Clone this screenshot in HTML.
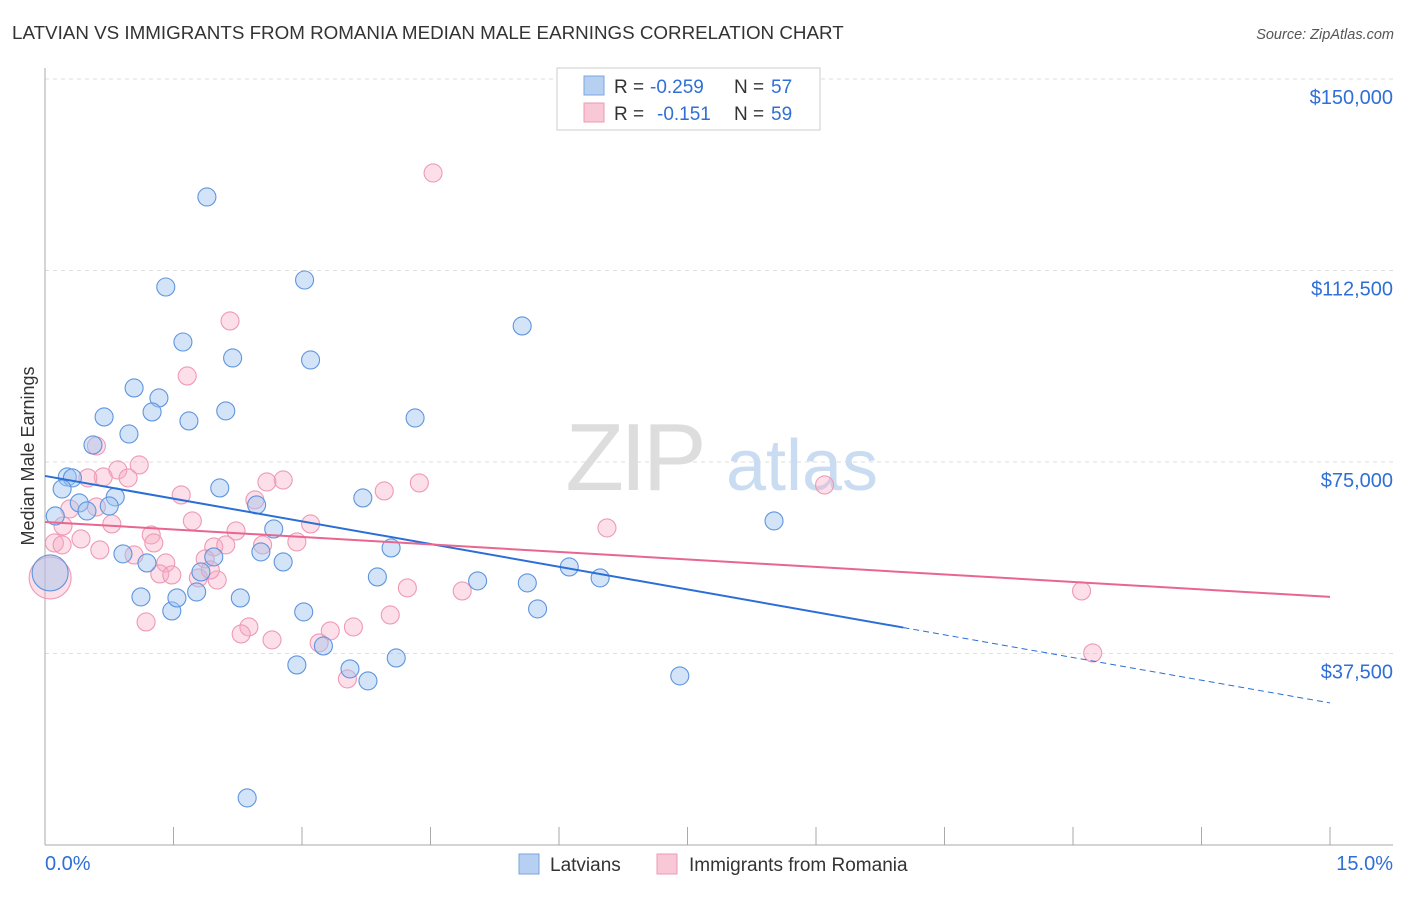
<!DOCTYPE html>
<html><head><meta charset="utf-8"><style>
body{margin:0;background:#fff;font-family:"Liberation Sans",sans-serif}
svg text{font-family:"Liberation Sans",sans-serif}
</style></head><body>
<svg id="chart" width="1406" height="892">
<text x="12" y="39" font-size="18.8" fill="#333">LATVIAN VS IMMIGRANTS FROM ROMANIA MEDIAN MALE EARNINGS CORRELATION CHART</text>
<text x="1394" y="39" font-size="14.5" fill="#555" font-style="italic" text-anchor="end">Source: ZipAtlas.com</text>
<text x="0" y="0" font-size="18" fill="#333" transform="translate(34,456) rotate(-90)" text-anchor="middle">Median Male Earnings</text>
<g id="grid"></g>
<g id="wm">
<text x="634" y="490" font-size="96" fill="#ddd" font-family="Liberation Serif" text-anchor="middle" letter-spacing="-4">ZIP</text>
<text x="802" y="490" font-size="72" fill="#c9dcf2" text-anchor="middle">atlas</text></g>
<g id="axes"></g>
<g id="pts"></g>
<g id="lines"></g>
<g>
<rect x="557" y="68" width="263" height="62" fill="#fff" stroke="#ccc"/>
<rect x="584" y="76" width="20" height="19" fill="#b7d0f2" stroke="#7aa6e0"/>
<text x="614" y="93" font-size="19" fill="#333">R =</text>
<text x="650" y="93" font-size="19" fill="#2f6fd6">-0.259</text>
<text x="734" y="93" font-size="19" fill="#333">N =</text>
<text x="771" y="93" font-size="19" fill="#2f6fd6">57</text>
<rect x="584" y="103" width="20" height="19" fill="#f9c8d6" stroke="#ec99b2"/>
<text x="614" y="120" font-size="19" fill="#333">R =</text>
<text x="657" y="120" font-size="19" fill="#2f6fd6">-0.151</text>
<text x="734" y="120" font-size="19" fill="#333">N =</text>
<text x="771" y="120" font-size="19" fill="#2f6fd6">59</text>
</g>
<g>
<rect x="519" y="854" width="20" height="20" fill="#b7d0f2" stroke="#7aa6e0"/>
<text x="550" y="871" font-size="19" fill="#333">Latvians</text>
<rect x="657" y="854" width="20" height="20" fill="#f9c8d6" stroke="#ec99b2"/>
<text x="689" y="871" font-size="19" fill="#333">Immigrants from Romania</text>
</g>
</svg>
<script>
const yTicks=[150000,112500,75000,37500];
const yTickLabels=["$150,000","$112,500","$75,000","$37,500"];
const xTickCount=[0,1.5,3,4.5,6,7.5,9,10.5,12,13.5,15];
const blueX=[1.89,1.41,3.03,1.61,2.19,3.10,5.57,1.04,1.33,1.25,0.69,2.11,1.68,4.32,0.98,0.56,0.26,0.32,0.20,0.82,2.04,3.71,0.40,0.49,0.75,0.12,2.47,2.67,8.51,0.91,1.19,2.52,2.78,1.97,4.04,1.82,3.88,5.05,5.63,6.12,6.48,1.12,1.48,1.77,2.28,1.54,3.02,5.75,3.25,2.94,3.56,4.10,3.77,7.41,2.36,0.06];
const blueY=[126900,109270,110640,98500,95370,94980,101640,89500,87540,84800,83820,85000,83040,83620,80490,78340,72070,71880,69720,68160,69920,67960,66980,65410,66390,64430,66590,61890,63460,57000,55230,57390,55430,56410,58170,53470,52490,51710,51320,54450,52300,48580,45830,49550,48380,48380,45640,46230,38980,35260,34480,36630,32130,33110,9220,53270];
const pinkX=[4.53,2.16,1.66,0.60,1.10,0.85,0.68,0.50,2.78,2.59,4.37,3.96,1.59,9.10,0.97,2.45,0.29,0.60,0.21,0.78,1.72,3.10,2.23,1.24,6.56,0.11,0.20,0.42,1.27,2.94,2.54,1.97,2.11,1.04,1.41,1.87,1.34,1.48,1.79,2.01,4.23,4.87,12.10,1.18,2.38,2.29,3.60,3.33,2.65,3.20,4.03,12.23,3.53,0.06,1.93,0.64];
const pinkY=[131600,102620,91850,78140,74420,73440,72070,71880,71480,71090,70900,69330,68550,70500,71880,67570,65810,66200,62480,62870,63460,62870,61500,60720,62090,59150,58760,59930,59150,59350,58760,58370,58760,56800,55230,56020,53080,52880,52300,51900,50340,49750,49750,43680,42700,41330,42700,41920,40160,39570,45050,37610,32520,52300,53860,57780];
const blueTrend=[72270,27820];
const pinkTrend=[63260,48580];
const NS='http://www.w3.org/2000/svg';
const X0=45,X1=1330,Y0=845,YTOP=79;
function sx(p){return X0+(p/15)*(X1-X0);}
function sy(v){return Y0-(v/150000)*(Y0-YTOP);}
function mk(tag,attrs,parent){const e=document.createElementNS(NS,tag);for(const k in attrs)e.setAttribute(k,attrs[k]);parent.appendChild(e);return e;}
const grid=document.getElementById('grid'),axes=document.getElementById('axes');
yTicks.forEach((v,i)=>{
  const l=mk('line',{x1:X0,x2:1393,y1:sy(v),y2:sy(v),stroke:'#ddd','stroke-dasharray':'4,4'},grid);
  
  
  const t=mk('text',{x:1393,y:sy(v)+25,'font-size':20,fill:'#2f6fd6','text-anchor':'end'},axes);
  t.textContent=yTickLabels[i];
  
  
});
mk('line',{x1:X0,x2:X0,y1:68,y2:Y0,stroke:'#aaa'},axes);
mk('line',{x1:X0,x2:1393,y1:Y0,y2:Y0,stroke:'#aaa'},axes);
xTickCount.forEach(p=>{
  const t=mk('line',{x1:sx(p),x2:sx(p),y1:827,y2:Y0,stroke:'#aaa'},axes);
  
  
});
const xl=mk('text',{x:45,y:870,'font-size':20,fill:'#2f6fd6'},axes);xl.textContent='0.0%';


const xr=mk('text',{x:1393,y:870,'font-size':20,fill:'#2f6fd6','text-anchor':'end'},axes);xr.textContent='15.0%';


const pts=document.getElementById('pts');
pinkX.forEach((x,i)=>{
  const r=(i===53)?21:9;
  const c=mk('circle',{cx:sx(x),cy:sy(pinkY[i]),r:r,fill:'rgba(246,170,195,0.38)',stroke:'#ef9ab5','stroke-width':1.1},pts);
  
  
});
blueX.forEach((x,i)=>{
  const r=(i===55)?18:9;
  const c=mk('circle',{cx:sx(x),cy:sy(blueY[i]),r:r,fill:'rgba(160,195,240,0.45)',stroke:'#5f95de','stroke-width':1.1},pts);
  
  
});
const lines=document.getElementById('lines');
function trendAt(t,p){return t[0]+(t[1]-t[0])*p/15;}
const bs=mk('line',{x1:sx(0),y1:sy(blueTrend[0]),x2:sx(10.02),y2:sy(trendAt(blueTrend,10.02)),stroke:'#2a6ed6','stroke-width':2},lines);


const bd=mk('line',{x1:sx(10.02),y1:sy(trendAt(blueTrend,10.02)),x2:sx(15),y2:sy(blueTrend[1]),stroke:'#2a6ed6','stroke-width':1,'stroke-dasharray':'6,4'},lines);


const pl=mk('line',{x1:sx(0),y1:sy(pinkTrend[0]),x2:sx(15),y2:sy(pinkTrend[1]),stroke:'#e8668f','stroke-width':2},lines);


</script>
</body></html>
